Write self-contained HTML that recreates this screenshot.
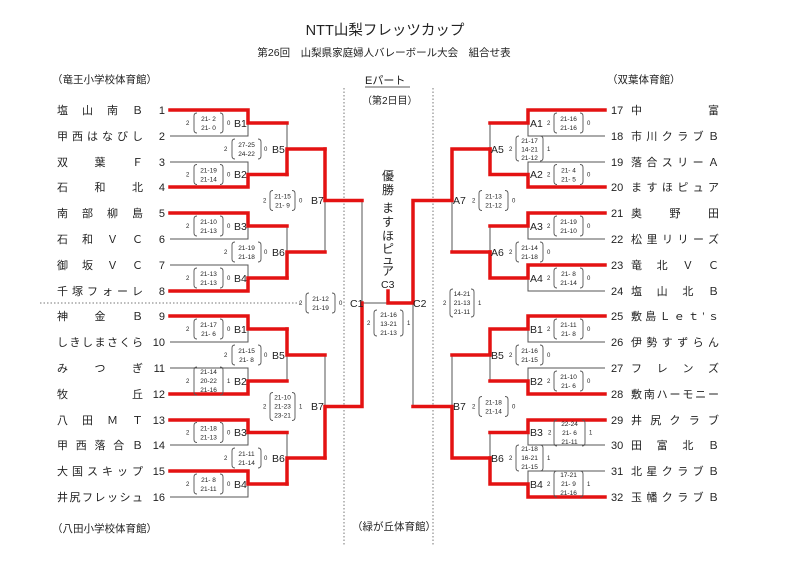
<!DOCTYPE html>
<html><head><meta charset="utf-8"><style>
html,body{margin:0;padding:0;background:#fff;}
svg{display:block;}
text{font-family:"Liberation Sans","Noto Sans CJK JP",sans-serif;fill:#222;}
.n{font-size:11px;}
.s{font-size:6.5px;text-anchor:middle;}
.d{font-size:6px;}
.l{font-size:10.5px;}
.g{stroke:#555;stroke-width:1;fill:none;}
.r{stroke:#e41212;stroke-width:3.5;fill:none;stroke-linecap:square;}
.p{stroke:#555;stroke-width:0.9;fill:none;}
</style></head><body>
<svg width="800" height="562" viewBox="0 0 800 562" xmlns="http://www.w3.org/2000/svg">
<text x="385" y="35" font-size="14.5" text-anchor="middle">NTT山梨フレッツカップ</text>
<text x="384" y="56" font-size="10.5" text-anchor="middle">第26回　山梨県家庭婦人バレーボール大会　組合せ表</text>
<text x="52" y="83" font-size="10.5">（竜王小学校体育館）</text>
<text x="607" y="83" font-size="10.5">（双葉体育館）</text>
<text x="365" y="84" font-size="11">Eパート</text>
<line x1="365" y1="87" x2="410" y2="87" stroke="#222" stroke-width="0.8"/>
<text x="362" y="104" font-size="10">（第2日目）</text>
<text x="52" y="532" font-size="10.5">（八田小学校体育館）</text>
<text x="352" y="530" font-size="10.5">（緑が丘体育館）</text>
<g stroke="#777" stroke-width="1" stroke-dasharray="1.5,2">
<line x1="344" y1="88" x2="344" y2="545"/><line x1="433" y1="88" x2="433" y2="545"/>
<line x1="40" y1="303" x2="300" y2="303"/>
</g>
<g font-size="12" text-anchor="middle">
<text x="388" y="180">優</text><text x="388" y="194">勝</text>
<text x="388" y="212">ま</text><text x="388" y="226">す</text><text x="388" y="240">ほ</text><text x="388" y="253">ピ</text><text x="388" y="264">ュ</text><text x="388" y="275">ア</text>
</g>
<!-- gray lines -->
<g class="g">
<path d="M170 110H248V136H170M170 162H248V187H170M170 213H248V239H170M170 265H248V291H170"/>
<path d="M170 316H248V342H170M170 368H248V394H170M170 420H248V445H170M170 471H248V497H170"/>
<path d="M248 123H287V174.5H248M248 226H287V278H248M248 329H287V381H248M248 432.5H287V484H248"/>
<path d="M287 149H325V252H287M287 355H325V458H287"/>
<path d="M325 200.5H362V406.5H325M362 303H388"/>
<path d="M605 110H528V136H605M605 162H528V187H605M605 213H528V239H605M605 265H528V291H605"/>
<path d="M605 316H528V342H605M605 368H528V394H605M605 420H528V445H605M605 471H528V497H605"/>
<path d="M528 123H490V174.5H528M528 226H490V278H528M528 329H490V381H528M528 432.5H490V484H528"/>
<path d="M490 149H452V252H490M490 355H452V458H490"/>
<path d="M452 200.5H413V406.5H452"/>
</g>
<!-- red lines -->
<g class="r">
<path d="M170 110H248V123H287"/><path d="M170 187H248V174.5H287"/>
<path d="M170 213H248V226H287"/><path d="M170 291H248V278H287"/>
<path d="M287 174.5V149H325"/><path d="M287 278V252H325"/>
<path d="M325 149V200.5H362"/>
<path d="M170 316H248V329H287"/><path d="M170 394H248V381H287"/>
<path d="M170 420H248V432.5H287"/><path d="M170 471H248V484H287"/>
<path d="M287 329V355H325"/><path d="M287 484V458H325"/>
<path d="M325 458V406.5H362V303"/>
<path d="M388 291V303H413V200.5H452V149H490"/>
<path d="M413 406.5H452V458H490"/>
<path d="M452 252H490"/>
<path d="M605 110H528V123H490"/><path d="M605 187H528V174.5H490V149"/>
<path d="M605 213H528V226H490"/><path d="M605 265H528V278H490V252"/>
<path d="M605 316H528V329H490V355H452"/><path d="M605 394H528V381H490"/>
<path d="M605 420H528V432.5H490"/><path d="M605 497H528V484H490V458"/>
</g>
<text x="381" y="288" font-size="10.5">C3</text>
<!-- left names -->
<g class="n">
<text x="57" y="114" textLength="86" lengthAdjust="spacing">塩山南Ｂ</text>
<text x="57" y="140" textLength="86" lengthAdjust="spacing">甲西はなびし</text>
<text x="57" y="166" textLength="86" lengthAdjust="spacing">双葉Ｆ</text>
<text x="57" y="191" textLength="86" lengthAdjust="spacing">石和北</text>
<text x="57" y="217" textLength="86" lengthAdjust="spacing">南部柳島</text>
<text x="57" y="243" textLength="86" lengthAdjust="spacing">石和ＶＣ</text>
<text x="57" y="269" textLength="86" lengthAdjust="spacing">御坂ＶＣ</text>
<text x="57" y="295" textLength="86" lengthAdjust="spacing">千塚フォーレ</text>
<text x="57" y="320" textLength="86" lengthAdjust="spacing">神金Ｂ</text>
<text x="57" y="346" textLength="86" lengthAdjust="spacing">しきしまさくら</text>
<text x="57" y="372" textLength="86" lengthAdjust="spacing">みつぎ</text>
<text x="57" y="398" textLength="86" lengthAdjust="spacing">牧丘</text>
<text x="57" y="424" textLength="86" lengthAdjust="spacing">八田ＭＴ</text>
<text x="57" y="449" textLength="86" lengthAdjust="spacing">甲西落合Ｂ</text>
<text x="57" y="475" textLength="86" lengthAdjust="spacing">大国スキップ</text>
<text x="57" y="501" textLength="86" lengthAdjust="spacing">井尻フレッシュ</text>
</g>
<g class="n" text-anchor="end">
<text x="165" y="114">1</text><text x="165" y="140">2</text><text x="165" y="166">3</text><text x="165" y="191">4</text>
<text x="165" y="217">5</text><text x="165" y="243">6</text><text x="165" y="269">7</text><text x="165" y="295">8</text>
<text x="165" y="320">9</text><text x="165" y="346">10</text><text x="165" y="372">11</text><text x="165" y="398">12</text>
<text x="165" y="424">13</text><text x="165" y="449">14</text><text x="165" y="475">15</text><text x="165" y="501">16</text>
</g>
<!-- right names -->
<g class="n">
<text x="611" y="114">17</text><text x="611" y="140">18</text><text x="611" y="166">19</text><text x="611" y="191">20</text>
<text x="611" y="217">21</text><text x="611" y="243">22</text><text x="611" y="269">23</text><text x="611" y="295">24</text>
<text x="611" y="320">25</text><text x="611" y="346">26</text><text x="611" y="372">27</text><text x="611" y="398">28</text>
<text x="611" y="424">29</text><text x="611" y="449">30</text><text x="611" y="475">31</text><text x="611" y="501">32</text>
<text x="631" y="114" textLength="88" lengthAdjust="spacing">中富</text>
<text x="631" y="140" textLength="88" lengthAdjust="spacing">市川クラブＢ</text>
<text x="631" y="166" textLength="88" lengthAdjust="spacing">落合スリーＡ</text>
<text x="631" y="191" textLength="88" lengthAdjust="spacing">ますほピュア</text>
<text x="631" y="217" textLength="88" lengthAdjust="spacing">奥野田</text>
<text x="631" y="243" textLength="88" lengthAdjust="spacing">松里リリーズ</text>
<text x="631" y="269" textLength="88" lengthAdjust="spacing">竜北ＶＣ</text>
<text x="631" y="295" textLength="88" lengthAdjust="spacing">塩山北Ｂ</text>
<text x="631" y="320" textLength="88" lengthAdjust="spacing">敷島Ｌｅｔ’ｓ</text>
<text x="631" y="346" textLength="88" lengthAdjust="spacing">伊勢すずらん</text>
<text x="631" y="372" textLength="88" lengthAdjust="spacing">フレンズ</text>
<text x="631" y="398" textLength="88" lengthAdjust="spacing">敷南ハーモニー</text>
<text x="631" y="424" textLength="88" lengthAdjust="spacing">井尻クラブ</text>
<text x="631" y="449" textLength="88" lengthAdjust="spacing">田富北Ｂ</text>
<text x="631" y="475" textLength="88" lengthAdjust="spacing">北星クラブＢ</text>
<text x="631" y="501" textLength="88" lengthAdjust="spacing">玉幡クラブＢ</text>
</g>
<!-- match labels -->
<g class="l">
<text x="234" y="127">B1</text><text x="234" y="178">B2</text><text x="234" y="230">B3</text><text x="234" y="282">B4</text>
<text x="272" y="153">B5</text><text x="272" y="256">B6</text><text x="311" y="204">B7</text>
<text x="234" y="333">B1</text><text x="234" y="385">B2</text><text x="234" y="436">B3</text><text x="234" y="488">B4</text>
<text x="272" y="359">B5</text><text x="272" y="462">B6</text><text x="311" y="410">B7</text>
<text x="350" y="307">C1</text><text x="413" y="307">C2</text>
<text x="530" y="127">A1</text><text x="530" y="178">A2</text><text x="530" y="230">A3</text><text x="530" y="282">A4</text>
<text x="491" y="153">A5</text><text x="491" y="256">A6</text><text x="453" y="204">A7</text>
<text x="530" y="333">B1</text><text x="530" y="385">B2</text><text x="530" y="436">B3</text><text x="530" y="488">B4</text>
<text x="491" y="359">B5</text><text x="491" y="462">B6</text><text x="453" y="410">B7</text>
</g>
<g class="p">
<path d="M197 113Q194 113 194 116V130Q194 133 197 133M220 113Q223 113 223 116V130Q223 133 220 133"/>
<path d="M197 164.5Q194 164.5 194 167.5V181.5Q194 184.5 197 184.5M220 164.5Q223 164.5 223 167.5V181.5Q223 184.5 220 184.5"/>
<path d="M197 216Q194 216 194 219V233Q194 236 197 236M220 216Q223 216 223 219V233Q223 236 220 236"/>
<path d="M197 268Q194 268 194 271V285Q194 288 197 288M220 268Q223 268 223 271V285Q223 288 220 288"/>
<path d="M235 139Q232 139 232 142V156Q232 159 235 159M258 139Q261 139 261 142V156Q261 159 258 159"/>
<path d="M235 242Q232 242 232 245V259Q232 262 235 262M258 242Q261 242 261 245V259Q261 262 258 262"/>
<path d="M273 190.5Q270 190.5 270 193.5V207.5Q270 210.5 273 210.5M292 190.5Q295 190.5 295 193.5V207.5Q295 210.5 292 210.5"/>
<path d="M197 319Q194 319 194 322V336Q194 339 197 339M220 319Q223 319 223 322V336Q223 339 220 339"/>
<path d="M197 367Q194 367 194 370V392Q194 395 197 395M220 367Q223 367 223 370V392Q223 395 220 395"/>
<path d="M197 422.5Q194 422.5 194 425.5V439.5Q194 442.5 197 442.5M220 422.5Q223 422.5 223 425.5V439.5Q223 442.5 220 442.5"/>
<path d="M197 474Q194 474 194 477V491Q194 494 197 494M220 474Q223 474 223 477V491Q223 494 220 494"/>
<path d="M235 345Q232 345 232 348V362Q232 365 235 365M258 345Q261 345 261 348V362Q261 365 258 365"/>
<path d="M235 448Q232 448 232 451V465Q232 468 235 468M258 448Q261 448 261 451V465Q261 468 258 468"/>
<path d="M273 392.5Q270 392.5 270 395.5V417.5Q270 420.5 273 420.5M292 392.5Q295 392.5 295 395.5V417.5Q295 420.5 292 420.5"/>
<path d="M309 293Q306 293 306 296V310Q306 313 309 313M332 293Q335 293 335 296V310Q335 313 332 313"/>
<path d="M377 310Q374 310 374 313V333Q374 336 377 336M400 310Q403 310 403 313V333Q403 336 400 336"/>
<path d="M453 289Q450 289 450 292V314Q450 317 453 317M471 289Q474 289 474 292V314Q474 317 471 317"/>
<path d="M557 113Q554 113 554 116V130Q554 133 557 133M580 113Q583 113 583 116V130Q583 133 580 133"/>
<path d="M557 164.5Q554 164.5 554 167.5V181.5Q554 184.5 557 184.5M580 164.5Q583 164.5 583 167.5V181.5Q583 184.5 580 184.5"/>
<path d="M557 216Q554 216 554 219V233Q554 236 557 236M580 216Q583 216 583 219V233Q583 236 580 236"/>
<path d="M557 268Q554 268 554 271V285Q554 288 557 288M580 268Q583 268 583 271V285Q583 288 580 288"/>
<path d="M519 136Q516 136 516 139V158Q516 161 519 161M540 136Q543 136 543 139V158Q543 161 540 161"/>
<path d="M519 242Q516 242 516 245V259Q516 262 519 262M540 242Q543 242 543 245V259Q543 262 540 262"/>
<path d="M482 190.5Q479 190.5 479 193.5V207.5Q479 210.5 482 210.5M505 190.5Q508 190.5 508 193.5V207.5Q508 210.5 505 210.5"/>
<path d="M557 319Q554 319 554 322V336Q554 339 557 339M580 319Q583 319 583 322V336Q583 339 580 339"/>
<path d="M557 371Q554 371 554 374V388Q554 391 557 391M580 371Q583 371 583 374V388Q583 391 580 391"/>
<path d="M557 420Q554 420 554 423V443Q554 446 557 446M582 420Q585 420 585 423V443Q585 446 582 446"/>
<path d="M557 471Q554 471 554 474V494Q554 497 557 497M580 471Q583 471 583 474V494Q583 497 580 497"/>
<path d="M519 345Q516 345 516 348V362Q516 365 519 365M540 345Q543 345 543 348V362Q543 365 540 365"/>
<path d="M519 445Q516 445 516 448V468Q516 471 519 471M540 445Q543 445 543 448V468Q543 471 540 471"/>
<path d="M482 396.5Q479 396.5 479 399.5V413.5Q479 416.5 482 416.5M505 396.5Q508 396.5 508 399.5V413.5Q508 416.5 505 416.5"/>
</g>
<g class="s">
<text x="208.5" y="121">21- 2</text><text x="208.5" y="130">21- 0</text>
<text x="208.5" y="172.5">21-19</text><text x="208.5" y="181.5">21-14</text>
<text x="208.5" y="224">21-10</text><text x="208.5" y="233">21-13</text>
<text x="208.5" y="276">21-13</text><text x="208.5" y="285">21-13</text>
<text x="246.5" y="147">27-25</text><text x="246.5" y="156">24-22</text>
<text x="246.5" y="250">21-19</text><text x="246.5" y="259">21-18</text>
<text x="282.5" y="198.5">21-15</text><text x="282.5" y="207.5">21- 9</text>
<text x="208.5" y="327">21-17</text><text x="208.5" y="336">21- 6</text>
<text x="208.5" y="374">21-14</text><text x="208.5" y="383">20-22</text><text x="208.5" y="392">21-16</text>
<text x="208.5" y="430.5">21-18</text><text x="208.5" y="439.5">21-13</text>
<text x="208.5" y="482">21- 8</text><text x="208.5" y="491">21-11</text>
<text x="246.5" y="353">21-15</text><text x="246.5" y="362">21- 8</text>
<text x="246.5" y="456">21-11</text><text x="246.5" y="465">21-14</text>
<text x="282.5" y="399.5">21-10</text><text x="282.5" y="408.5">21-23</text><text x="282.5" y="417.5">23-21</text>
<text x="320.5" y="301">21-12</text><text x="320.5" y="310">21-19</text>
<text x="388.5" y="317">21-16</text><text x="388.5" y="326">13-21</text><text x="388.5" y="335">21-13</text>
<text x="462" y="296">14-21</text><text x="462" y="305">21-13</text><text x="462" y="314">21-11</text>
<text x="568.5" y="121">21-16</text><text x="568.5" y="130">21-16</text>
<text x="568.5" y="172.5">21- 4</text><text x="568.5" y="181.5">21- 5</text>
<text x="568.5" y="224">21-19</text><text x="568.5" y="233">21-10</text>
<text x="568.5" y="276">21- 8</text><text x="568.5" y="285">21-14</text>
<text x="529.5" y="143">21-17</text><text x="529.5" y="151.5">14-21</text><text x="529.5" y="160">21-12</text>
<text x="529.5" y="250">21-14</text><text x="529.5" y="259">21-18</text>
<text x="493.5" y="198.5">21-13</text><text x="493.5" y="207.5">21-12</text>
<text x="568.5" y="327">21-11</text><text x="568.5" y="336">21- 8</text>
<text x="568.5" y="379">21-10</text><text x="568.5" y="388">21- 6</text>
<text x="569.5" y="426">22-24</text><text x="569.5" y="435">21- 6</text><text x="569.5" y="444">21-11</text>
<text x="568.5" y="477">17-21</text><text x="568.5" y="486">21- 9</text><text x="568.5" y="495">21-16</text>
<text x="529.5" y="353">21-16</text><text x="529.5" y="362">21-15</text>
<text x="529.5" y="451">21-18</text><text x="529.5" y="460">16-21</text><text x="529.5" y="469">21-15</text>
<text x="493.5" y="404.5">21-18</text><text x="493.5" y="413.5">21-14</text>
</g>
<g class="d">
<text x="186" y="125">2</text><text x="227" y="125">0</text>
<text x="186" y="176.5">2</text><text x="227" y="176.5">0</text>
<text x="186" y="228">2</text><text x="227" y="228">0</text>
<text x="186" y="280">2</text><text x="227" y="280">0</text>
<text x="224" y="151">2</text><text x="264" y="151">0</text>
<text x="224" y="254">2</text><text x="264" y="254">0</text>
<text x="263" y="202.5">2</text><text x="299" y="202.5">0</text>
<text x="186" y="331">2</text><text x="227" y="331">0</text>
<text x="186" y="383">2</text><text x="227" y="383">1</text>
<text x="186" y="434.5">2</text><text x="227" y="434.5">0</text>
<text x="186" y="486">2</text><text x="227" y="486">0</text>
<text x="224" y="357">2</text><text x="264" y="357">0</text>
<text x="224" y="460">2</text><text x="264" y="460">0</text>
<text x="263" y="408.5">2</text><text x="299" y="408.5">1</text>
<text x="299" y="305">2</text><text x="339" y="305">0</text>
<text x="367" y="325">2</text><text x="407" y="325">1</text>
<text x="443" y="305">2</text><text x="478" y="305">1</text>
<text x="547" y="125">2</text><text x="587" y="125">0</text>
<text x="547" y="176.5">2</text><text x="587" y="176.5">0</text>
<text x="547" y="228">2</text><text x="587" y="228">0</text>
<text x="547" y="280">2</text><text x="587" y="280">0</text>
<text x="509" y="151">2</text><text x="547" y="151">1</text>
<text x="509" y="254">2</text><text x="547" y="254">0</text>
<text x="472" y="202.5">2</text><text x="512" y="202.5">0</text>
<text x="547" y="331">2</text><text x="587" y="331">0</text>
<text x="547" y="383">2</text><text x="587" y="383">0</text>
<text x="548" y="434.5">2</text><text x="589" y="434.5">1</text>
<text x="547" y="486">2</text><text x="587" y="486">1</text>
<text x="509" y="357">2</text><text x="547" y="357">0</text>
<text x="509" y="460">2</text><text x="547" y="460">1</text>
<text x="472" y="408.5">2</text><text x="512" y="408.5">0</text>
</g>
</svg>
</body></html>
